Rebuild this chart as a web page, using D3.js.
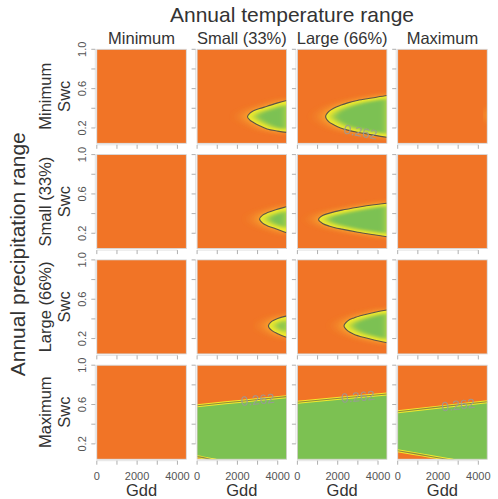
<!DOCTYPE html>
<html><head><meta charset="utf-8">
<script src="https://cdn.jsdelivr.net/npm/d3@7"></script>
<style>body{margin:0;background:#fff}svg{display:block}text{font-family:"Liberation Sans",Arial,sans-serif}</style>
</head><body>
<script>
// ---------- data ----------
const tempLevels = ["Minimum", "Small (33%)", "Large (66%)", "Maximum"];
const precipLevels = ["Minimum", "Small (33%)", "Large (66%)", "Maximum"];
const gddTicks = [0, 1000, 2000, 3000, 4000];
const gddTickLabels = [0, 2000, 4000];
const swcTicks = [0.2, 0.4, 0.6, 0.8, 1.0];
const swcTickLabels = [0.2, 0.6, 1.0];
const gddDomain = [0, 4440];
const swcDomain = [0.044, 1.0];
const contourLevel = 0.262;

// contour lines (level 0.262) per panel [precip row][temp col], points [Gdd, Swc]
const contourRow0 = [
  [],
  [[[4800,0.495],[4440,0.48],[4000,0.455],[3470,0.42],[3100,0.397],[2800,0.375],[2620,0.35],[2500,0.315],[2620,0.28],[2800,0.255],[3100,0.222],[3470,0.19],[4000,0.168],[4440,0.155],[4800,0.148]]],
  [[[4800,0.54],[4440,0.53],[3700,0.505],[2970,0.48],[2500,0.455],[2140,0.43],[1800,0.40],[1550,0.365],[1400,0.315],[1550,0.265],[1800,0.232],[2140,0.2],[2500,0.178],[2970,0.157],[3700,0.13],[4440,0.105],[4800,0.095]]],
  [[[5300,0.43],[4850,0.385],[4660,0.33],[4850,0.275],[5300,0.23]]]
];
const contourRow1 = [
  [],
  [[[4800,0.49],[4440,0.47],[3900,0.44],[3500,0.41],[3250,0.385],[3100,0.345],[3250,0.303],[3500,0.275],[3900,0.245],[4440,0.205],[4800,0.19]]],
  [[[4800,0.52],[4440,0.505],[3800,0.49],[3000,0.465],[2200,0.435],[1600,0.405],[1250,0.38],[1050,0.34],[1250,0.3],[1600,0.272],[2200,0.242],[3000,0.21],[3800,0.185],[4440,0.165],[4800,0.155]]],
  []
];
const contourRow2 = [
  [],
  [[[4800,0.445],[4440,0.43],[4000,0.405],[3700,0.375],[3537,0.328],[3700,0.283],[4000,0.25],[4440,0.213],[4800,0.2]]],
  [[[4800,0.5],[4440,0.49],[3850,0.468],[3270,0.44],[2800,0.41],[2500,0.38],[2313,0.328],[2500,0.278],[2800,0.245],[3270,0.213],[3850,0.183],[4440,0.158],[4800,0.15]]],
  []
];
const contourRow3 = [
  [],
  [[[-300,0.58],[0,0.588],[2220,0.634],[4440,0.68],[4800,0.687]],
   [[-300,0.076],[0,0.07],[650,0.044],[1000,0.03],[4800,-0.3]]],
  [[[-300,0.615],[0,0.623],[4440,0.707],[4800,0.714]],
   [[-300,-0.3],[4800,-0.3]]],
  [[[-300,0.52],[0,0.527],[4440,0.629],[4800,0.637]],
   [[-300,0.14],[0,0.13],[1200,0.088],[2430,0.044],[2800,0.03],[4800,-0.3]]]
];
const contourLines = [contourRow0, contourRow1, contourRow2, contourRow3];
// contour label anchors: [row, col, Gdd, Swc]
const contourLabels = [[0,2,3130,0.16],[3,1,3000,0.65],[3,2,3000,0.68],[3,3,3000,0.596]];

// ---------- layout ----------
const WIDTH = 498, HEIGHT = 499;
const W = 89.5, H = 94;
const colX = [96.8, 197.1, 297.4, 397.7];
const rowY = [49.3, 154.6, 259.9, 365.2];
const ORANGE = "#F17426", GREEN = "#7CC152", YELLOW = "#F4EA2C";

const svg = d3.select("body").append("svg").attr("width", WIDTH).attr("height", HEIGHT);
const defs = svg.append("defs");
const glow = defs.append("filter").attr("id","glow").attr("x","-60%").attr("y","-60%").attr("width","220%").attr("height","220%");
glow.append("feGaussianBlur").attr("stdDeviation","9 2.5");
const inner = defs.append("filter").attr("id","innerGreen").attr("x","-30%").attr("y","-30%").attr("width","160%").attr("height","160%");
inner.append("feMorphology").attr("operator","erode").attr("radius","6 2").attr("result","e");
inner.append("feGaussianBlur").attr("in","e").attr("stdDeviation","4 1.5");

const x = d3.scaleLinear().domain(gddDomain).range([0, W]);
const y = d3.scaleLinear().domain(swcDomain).range([H, 0]);
const lineGen = d3.line().x(d => x(d[0])).y(d => y(d[1])).curve(d3.curveCatmullRom);

function regionPath(lines) {
  if (lines.length === 1) return lineGen(lines[0]) + "Z";
  const a = lineGen(lines[0]);
  const b = lineGen(lines[1].slice().reverse());
  return a + "L" + b.slice(1) + "Z";
}

const txtDark = "#333", txtTick = "#555", tickCol = "#9a9a9a";

precipLevels.forEach((pl, r) => {
  tempLevels.forEach((tl, c) => {
    const g = svg.append("g").attr("transform", `translate(${colX[c]},${rowY[r]})`);
    const cid = `clip-${r}-${c}`;
    defs.append("clipPath").attr("id", cid).append("rect").attr("width", W).attr("height", H);
    const gc = g.append("g").attr("clip-path", `url(#${cid})`);
    gc.append("rect").attr("width", W).attr("height", H).attr("fill", ORANGE);
    const lines = contourLines[r][c];
    const soft = r < 3;
    if (lines.length) {
      const d = regionPath(lines);
      if (soft) {
        gc.append("path").attr("d", d).attr("fill", "#FFD83A").attr("opacity", 0.85).attr("filter", "url(#glow)");
        const rid = `reg-${r}-${c}`;
        defs.append("clipPath").attr("id", rid).append("path").attr("d", d);
        const gr = gc.append("g").attr("clip-path", `url(#${rid})`);
        gr.append("path").attr("d", d).attr("fill", YELLOW);
        gr.append("path").attr("d", d).attr("fill", GREEN).attr("filter", "url(#innerGreen)");
      } else {
        gc.append("path").attr("d", d).attr("fill", GREEN);
        lines.forEach(l => gc.append("path").attr("d", lineGen(l)).attr("fill","none").attr("stroke", YELLOW).attr("stroke-width", 3));
      }
      lines.forEach(l => gc.append("path").attr("d", lineGen(l)).attr("fill","none")
        .attr("stroke", "#4a4a4a").attr("stroke-width", 1.1).attr("opacity", soft ? 0.9 : 0.6));
    }
    // contour labels
    contourLabels.filter(L => L[0] === r && L[1] === c).forEach(L => {
      let best = null;
      lines.forEach(l => {
        for (let i = 0; i < l.length - 1; i++) {
          const p = l[i], q = l[i+1];
          const lo = Math.min(p[0], q[0]), hi = Math.max(p[0], q[0]);
          if (L[2] >= lo && L[2] <= hi && hi > lo) {
            const t = (L[2] - p[0]) / (q[0] - p[0]);
            const s = p[1] + t * (q[1] - p[1]);
            const dist = Math.abs(s - L[3]);
            if (!best || dist < best.dist) {
              const dx = x(q[0]) - x(p[0]), dy = y(q[1]) - y(p[1]);
              let ang = Math.atan2(dy, dx) * 180 / Math.PI;
              if (ang > 90) ang -= 180; if (ang < -90) ang += 180;
              best = {dist, ang};
            }
          }
        }
      });
      gc.append("text").attr("transform", `translate(${x(L[2])},${y(L[3])}) rotate(${best ? best.ang : 0})`)
        .attr("text-anchor", "middle").attr("dy", "0.35em").attr("font-size", 13.5)
        .attr("fill", "#9a9a9a").attr("opacity", 0.9).text(contourLevel.toString());
    });
    g.append("rect").attr("width", W).attr("height", H).attr("fill", "none").attr("stroke", "#d2d2d2").attr("stroke-width", 0.8);
    // x ticks
    g.append("line").attr("x1", x(gddTicks[0])).attr("x2", x(gddTicks[gddTicks.length-1]))
      .attr("y1", H + 1.5).attr("y2", H + 1.5).attr("stroke", "#dcdcdc").attr("stroke-width", 0.8);
    g.selectAll(".xt").data(gddTicks).join("line")
      .attr("x1", d => x(d)).attr("x2", d => x(d)).attr("y1", H + 1.5).attr("y2", H + 5.5)
      .attr("stroke", tickCol).attr("stroke-width", 0.8);
    // y ticks
    g.append("line").attr("y1", y(swcTicks[0])).attr("y2", y(swcTicks[swcTicks.length-1]))
      .attr("x1", -1.5).attr("x2", -1.5).attr("stroke", "#dcdcdc").attr("stroke-width", 0.8);
    g.selectAll(".yt").data(swcTicks).join("line")
      .attr("y1", d => y(d)).attr("y2", d => y(d)).attr("x1", -5.5).attr("x2", -1.5)
      .attr("stroke", tickCol).attr("stroke-width", 0.8);
    if (c === 0) {
      g.selectAll(".yl").data(swcTickLabels).join("text")
        .attr("transform", d => `translate(-10.8,${y(d)}) rotate(-90)`)
        .attr("text-anchor", "middle").attr("font-size", 11).attr("fill", txtTick)
        .text(d => d.toFixed(1));
    }
    if (r === 3) {
      g.selectAll(".xl").data(gddTickLabels).join("text")
        .attr("x", d => x(d)).attr("y", H + 21).attr("text-anchor", "middle")
        .attr("font-size", 11).attr("fill", txtTick).text(d => d);
      g.append("text").attr("x", W / 2).attr("y", H + 37.3).attr("text-anchor", "middle")
        .attr("font-size", 16.5).attr("fill", txtDark).text("Gdd");
    }
    if (r === 0) {
      g.append("text").attr("x", W / 2).attr("y", -5.8).attr("text-anchor", "middle")
        .attr("font-size", 16.5).attr("fill", txtDark).text(tl);
    }
  });
  const cy = rowY[r] + H / 2;
  svg.append("text").attr("transform", `translate(50.5,${cy}) rotate(-90)`).attr("text-anchor", "middle")
    .attr("font-size", 16.5).attr("fill", txtDark).text(pl);
  svg.append("text").attr("transform", `translate(70,${cy}) rotate(-90)`).attr("text-anchor", "middle")
    .attr("font-size", 16.5).attr("fill", txtDark).text("Swc");
});

svg.append("text").attr("x", (colX[0] + colX[3] + W) / 2).attr("y", 22).attr("text-anchor", "middle")
  .attr("font-size", 21).attr("fill", txtDark).text("Annual temperature range");
svg.append("text").attr("transform", `translate(24.5,${(rowY[0] + rowY[3] + H) / 2}) rotate(-90)`)
  .attr("text-anchor", "middle").attr("font-size", 21).attr("fill", txtDark).text("Annual precipitation range");
</script>
</body></html>
